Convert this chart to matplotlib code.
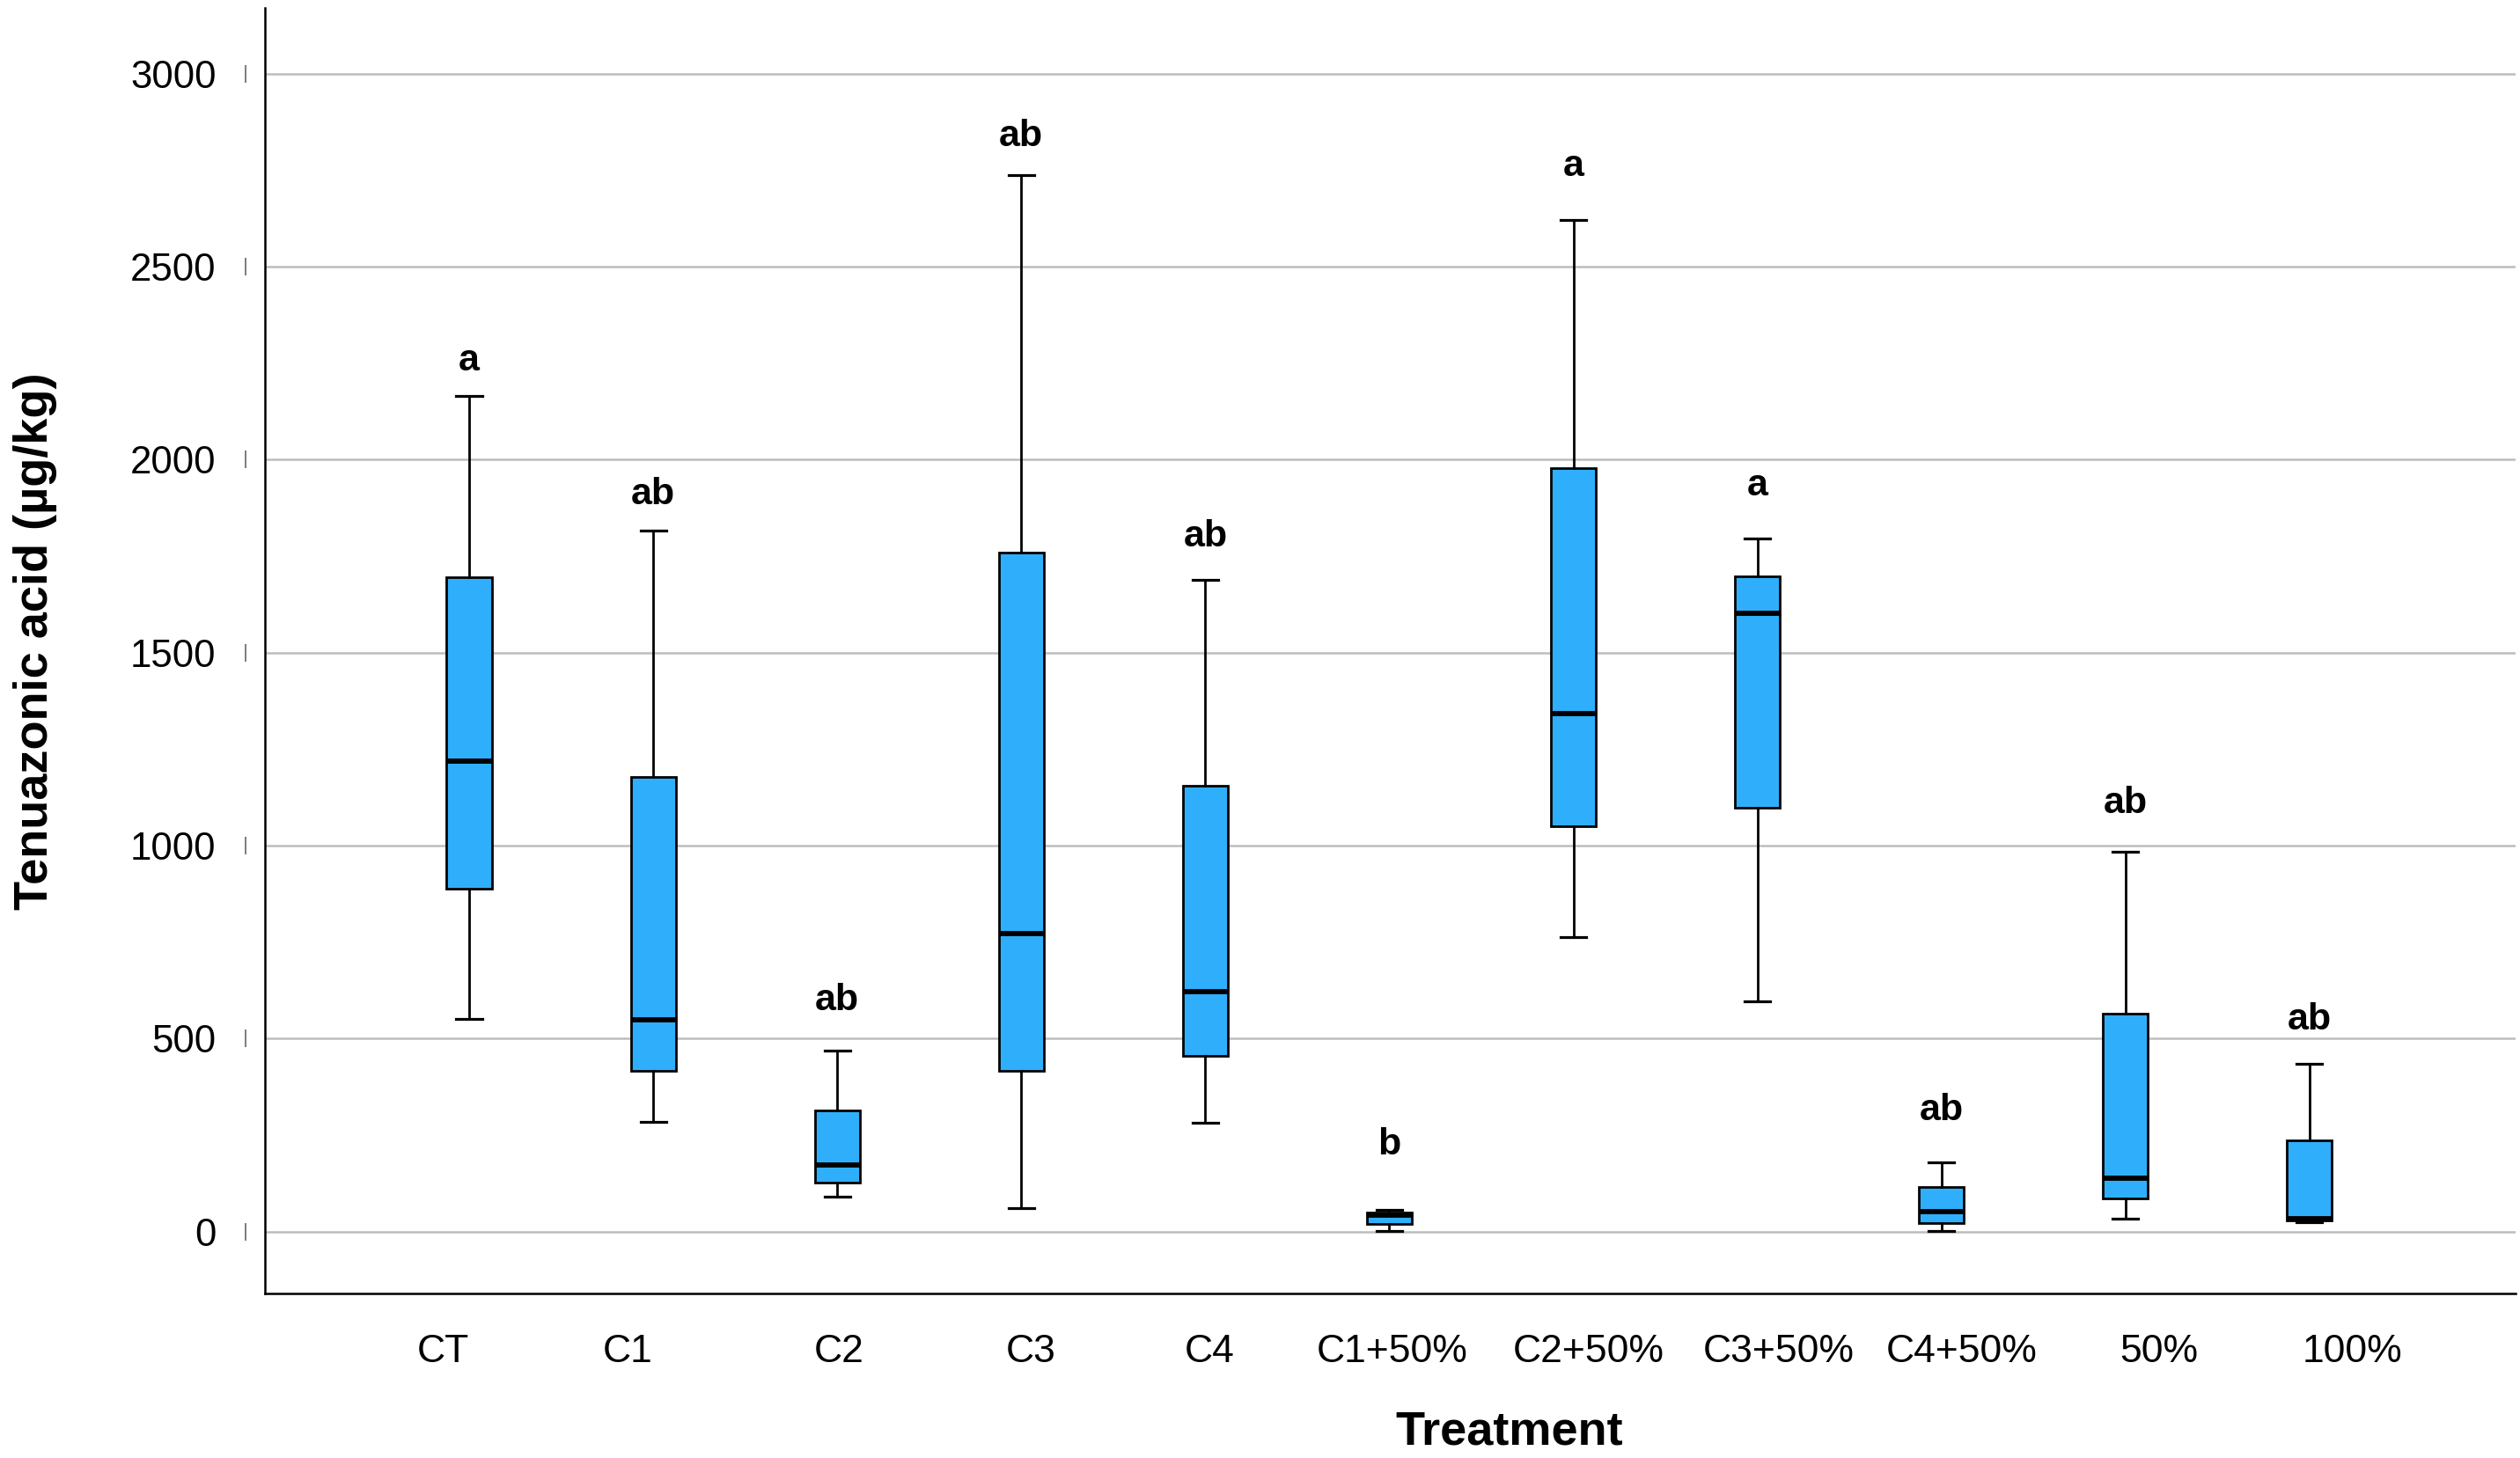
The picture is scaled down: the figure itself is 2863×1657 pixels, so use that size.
import numpy as np
import matplotlib
matplotlib.use("Agg")
import matplotlib.pyplot as plt
from matplotlib.transforms import ScaledTranslation, blended_transform_factory

plt.rcParams['font.family'] = ['Liberation Sans', 'DejaVu Sans']

# ---- data ----
categories = ['CT', 'C1', 'C2', 'C3', 'C4', 'C1+50%', 'C2+50%', 'C3+50%', 'C4+50%', '50%', '100%']
whisker_high = [2165, 1815, 470, 2738, 1688, 56, 2620, 1796, 180, 985, 435]
q3_values = [1695, 1177, 315, 1758, 1154, 50, 1977, 1697, 115, 564, 237]
median_values = [1220, 548, 172, 773, 622, 42, 1342, 1601, 53, 138, 33]
q1_values = [888, 416, 128, 417, 455, 20, 1050, 1098, 22, 87, 30]
whisker_low = [550, 284, 90, 60, 283, 1, 762, 597, 2, 33, 24]
letters = ['a', 'ab', 'ab', 'ab', 'ab', 'b', 'a', 'a', 'ab', 'ab', 'ab']
letter_baseline = [2231, 1885, 573, 2812, 1775, 200, 2734, 1908, 290, 1085, 524]
y_ticks = [0, 500, 1000, 1500, 2000, 2500, 3000]

W, H = 2863, 1657
fig = plt.figure(figsize=(W / 100, H / 100), dpi=100)
ax = fig.add_axes([301 / W, 1 - 1470 / H, (2858 - 301) / W, (1470 - 9) / H])

stats = []
for name, lo, a, m, b, hi in zip(categories, whisker_low, q1_values, median_values, q3_values, whisker_high):
    stats.append(dict(label=name, whislo=lo, q1=a, med=m, q3=b, whishi=hi, fliers=[]))

pos = np.arange(len(categories))
ax.bxp(stats, positions=pos, widths=0.245, capwidths=0.14, patch_artist=True, showfliers=False,
       boxprops=dict(facecolor='#2FAFFB', edgecolor='black', linewidth=2.0),
       medianprops=dict(color='black', linewidth=4.2, solid_capstyle='butt'),
       whiskerprops=dict(color='black', linewidth=2.0),
       capprops=dict(color='black', linewidth=2.3))

for x, t, yb in zip(pos, letters, letter_baseline):
    ax.text(x, yb, t, ha='center', va='baseline', fontsize=31, fontweight='bold', color='black')

ax.set_xlim(-1.11, 11.12)
ax.set_ylim(-160, 3170)
ax.set_yticks(y_ticks)
ax.set_yticklabels([str(v) for v in y_ticks])
ax.set_xticks(pos)
ax.set_xticklabels(categories)
ax.tick_params(axis='y', length=0, pad=40, labelsize=31.5)
ax.tick_params(axis='x', length=0, pad=33, labelsize=32)

# small nudges of the category labels as in the reference (pixels)
label_nudge_px = [-30, -29, 2, 11, 5, 3, 17, 24, 23, 38, 49]
for lab, dx in zip(ax.get_xticklabels(), label_nudge_px):
    lab.set_transform(lab.get_transform() + ScaledTranslation(dx / 100, 0, fig.dpi_scale_trans))

ax.yaxis.grid(True, color='#BDBDBD', linewidth=1.8)
ax.xaxis.grid(False)
ax.set_axisbelow(True)
for s in ['top', 'right']:
    ax.spines[s].set_visible(False)
for s in ['left', 'bottom']:
    ax.spines[s].set_color('black')
    ax.spines[s].set_linewidth(1.8)

# faint vertical tick marks left of the y axis
trans = blended_transform_factory(ax.transAxes, ax.transData)
ax.plot(np.full(len(y_ticks), -0.0086), y_ticks, transform=trans, ls='none', marker='|',
        ms=15, mew=1.2, color='#666666', clip_on=False)

fig.text(1715 / W, 1 - 1628 / H, 'Treatment', ha='center', va='center', fontsize=39, fontweight='bold')
fig.text(40 / W, 1 - 729 / H, 'Tenuazonic acid (µg/kg)', ha='center', va='center', rotation=90,
         fontsize=39, fontweight='bold')

fig.savefig('out.png', dpi=100, facecolor='white')
